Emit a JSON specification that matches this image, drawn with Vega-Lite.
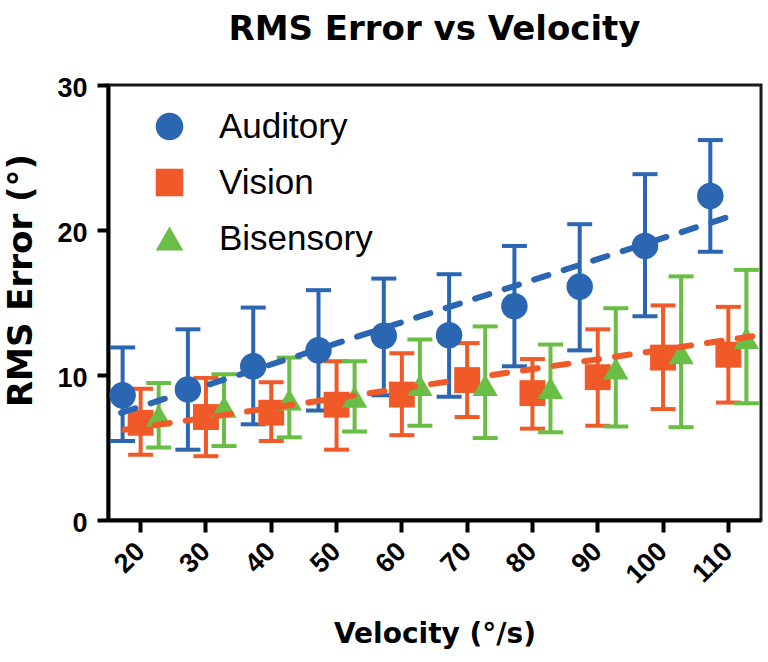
{
  "$schema": "https://vega.github.io/schema/vega-lite/v6.json",
  "width": 653,
  "height": 435,
  "autosize": "none",
  "padding": {"left": 108, "top": 85, "right": 7, "bottom": 142},
  "background": "white",
  "title": {"text": "RMS Error vs Velocity", "font": "DejaVu Sans", "fontWeight": "bold", "fontSize": 34, "color": "black", "anchor": "middle", "offset": 27},
  "config": {
    "view": {"stroke": "#1a1a1a", "strokeWidth": 3},
    "axis": {"domainColor": "black", "domainWidth": 4, "tickColor": "black", "tickWidth": 4, "grid": false, "labelFont": "Liberation Sans", "labelFontWeight": "bold", "labelFontSize": 27, "labelColor": "black", "titleFont": "DejaVu Sans", "titleFontWeight": "bold", "titleColor": "black"}
  },
  "resolve": {"scale": {"x": "independent"}, "axis": {"x": "independent"}, "legend": {"color": "independent", "shape": "independent"}},
  "datasets": {
    "points": [
      {"velocity": 20, "group": "Auditory", "rms": 8.6, "lo": 5.45, "hi": 11.9},
      {"velocity": 30, "group": "Auditory", "rms": 9.0, "lo": 4.85, "hi": 13.15},
      {"velocity": 40, "group": "Auditory", "rms": 10.6, "lo": 6.6, "hi": 14.65},
      {"velocity": 50, "group": "Auditory", "rms": 11.7, "lo": 7.55, "hi": 15.85},
      {"velocity": 60, "group": "Auditory", "rms": 12.7, "lo": 8.6, "hi": 16.65},
      {"velocity": 70, "group": "Auditory", "rms": 12.75, "lo": 8.5, "hi": 16.95},
      {"velocity": 80, "group": "Auditory", "rms": 14.75, "lo": 10.6, "hi": 18.9},
      {"velocity": 90, "group": "Auditory", "rms": 16.1, "lo": 11.7, "hi": 20.4},
      {"velocity": 100, "group": "Auditory", "rms": 18.9, "lo": 14.05, "hi": 23.85},
      {"velocity": 110, "group": "Auditory", "rms": 22.35, "lo": 18.5, "hi": 26.2},
      {"velocity": 20, "group": "Vision", "rms": 6.7, "lo": 4.5, "hi": 9.05},
      {"velocity": 30, "group": "Vision", "rms": 7.1, "lo": 4.4, "hi": 9.8},
      {"velocity": 40, "group": "Vision", "rms": 7.4, "lo": 5.45, "hi": 9.5},
      {"velocity": 50, "group": "Vision", "rms": 7.95, "lo": 4.85, "hi": 10.95},
      {"velocity": 60, "group": "Vision", "rms": 8.65, "lo": 5.85, "hi": 11.5},
      {"velocity": 70, "group": "Vision", "rms": 9.65, "lo": 7.1, "hi": 12.2},
      {"velocity": 80, "group": "Vision", "rms": 8.75, "lo": 6.3, "hi": 11.1},
      {"velocity": 90, "group": "Vision", "rms": 9.85, "lo": 6.5, "hi": 13.15},
      {"velocity": 100, "group": "Vision", "rms": 11.2, "lo": 7.65, "hi": 14.8},
      {"velocity": 110, "group": "Vision", "rms": 11.4, "lo": 8.1, "hi": 14.7},
      {"velocity": 20, "group": "Bisensory", "rms": 7.2, "lo": 5.0, "hi": 9.45},
      {"velocity": 30, "group": "Bisensory", "rms": 7.8, "lo": 5.1, "hi": 10.05},
      {"velocity": 40, "group": "Bisensory", "rms": 8.3, "lo": 5.7, "hi": 11.2},
      {"velocity": 50, "group": "Bisensory", "rms": 8.5, "lo": 6.1, "hi": 10.95},
      {"velocity": 60, "group": "Bisensory", "rms": 9.3, "lo": 6.5, "hi": 12.45},
      {"velocity": 70, "group": "Bisensory", "rms": 9.3, "lo": 5.65, "hi": 13.35},
      {"velocity": 80, "group": "Bisensory", "rms": 9.1, "lo": 6.05, "hi": 12.1},
      {"velocity": 90, "group": "Bisensory", "rms": 10.45, "lo": 6.45, "hi": 14.6},
      {"velocity": 100, "group": "Bisensory", "rms": 11.5, "lo": 6.4, "hi": 16.8},
      {"velocity": 110, "group": "Bisensory", "rms": 12.55, "lo": 8.05, "hi": 17.25}
    ],
    "trend": [
      {"velocity": 17, "group": "Auditory", "rms": 7.39},
      {"velocity": 110.5, "group": "Auditory", "rms": 20.97},
      {"velocity": 17.5, "group": "Vision", "rms": 6.22},
      {"velocity": 115, "group": "Vision", "rms": 12.76}
    ]
  },
  "layer": [
    {
      "data": {"name": "points"},
      "resolve": {"legend": {"color": "independent", "shape": "independent"}},
      "encoding": {
        "x": {"field": "velocity", "type": "ordinal", "scale": {"paddingInner": 0, "paddingOuter": 0},
          "axis": {"tickSize": 12, "labelAngle": -45, "labelAlign": "right", "labelBaseline": "middle", "labelPadding": 15, "title": "Velocity (°/s)", "titleFontSize": 28, "titleY": 122, "titleBaseline": "alphabetic"}},
        "xOffset": {"field": "group", "type": "nominal", "scale": {"domain": ["Auditory", "Vision", "Bisensory"], "paddingInner": 0, "paddingOuter": 0.31}}
      },
      "layer": [
        {
          "mark": {"type": "rule", "strokeWidth": 4},
          "encoding": {
            "y": {"field": "lo", "type": "quantitative", "scale": {"domain": [0, 30], "nice": false},
              "axis": {"values": [0, 10, 20, 30], "tickSize": 11, "labelPadding": 10, "labelOffset": 3, "title": "RMS Error (°)", "titleFontSize": 34, "titleAngle": -90, "titleX": -77, "titleY": 195, "titleAlign": "center", "titleBaseline": "alphabetic"}},
            "y2": {"field": "hi"},
            "color": {"field": "group", "type": "nominal", "scale": {"domain": ["Auditory", "Vision", "Bisensory"], "range": ["#2a66b1", "#ef5a28", "#6abd45"]}, "legend": null}
          }
        },
        {
          "mark": {"type": "tick", "orient": "horizontal", "size": 25, "thickness": 4, "opacity": 1},
          "encoding": {"y": {"field": "lo", "type": "quantitative"}, "color": {"field": "group", "type": "nominal", "legend": null}}
        },
        {
          "mark": {"type": "tick", "orient": "horizontal", "size": 25, "thickness": 4, "opacity": 1},
          "encoding": {"y": {"field": "hi", "type": "quantitative"}, "color": {"field": "group", "type": "nominal", "legend": null}}
        },
        {
          "mark": {"type": "point", "filled": true, "opacity": 1},
          "encoding": {
            "y": {"field": "rms", "type": "quantitative"},
            "size": {"field": "group", "type": "nominal", "scale": {"domain": ["Auditory", "Vision", "Bisensory"], "range": [700, 640, 1250]}, "legend": null},
            "color": {"field": "group", "type": "nominal", "legend": {"title": null, "orient": "none", "legendX": 44, "legendY": 24, "labelFont": "Liberation Sans", "labelFontSize": 35, "labelColor": "black", "symbolSize": 760, "symbolStrokeWidth": 0, "symbolOpacity": 1, "rowPadding": 20, "labelOffset": 32, "padding": 0}},
            "shape": {"field": "group", "type": "nominal", "scale": {"domain": ["Auditory", "Vision", "Bisensory"], "range": ["circle", "square", "triangle-up"]}, "legend": {"title": null, "orient": "none", "legendX": 44, "legendY": 24, "labelFont": "Liberation Sans", "labelFontSize": 35, "labelColor": "black", "symbolSize": 760, "symbolStrokeWidth": 0, "symbolOpacity": 1, "rowPadding": 20, "labelOffset": 32, "padding": 0}}
          }
        }
      ]
    },
    {
      "data": {"name": "trend"},
      "mark": {"type": "line", "strokeWidth": 6, "strokeDash": [15, 16], "strokeCap": "round", "clip": true},
      "encoding": {
        "x": {"field": "velocity", "type": "quantitative", "scale": {"domain": [15, 115], "nice": false, "zero": false}, "axis": null},
        "y": {"field": "rms", "type": "quantitative"},
        "color": {"field": "group", "type": "nominal", "legend": null}
      }
    }
  ]
}
